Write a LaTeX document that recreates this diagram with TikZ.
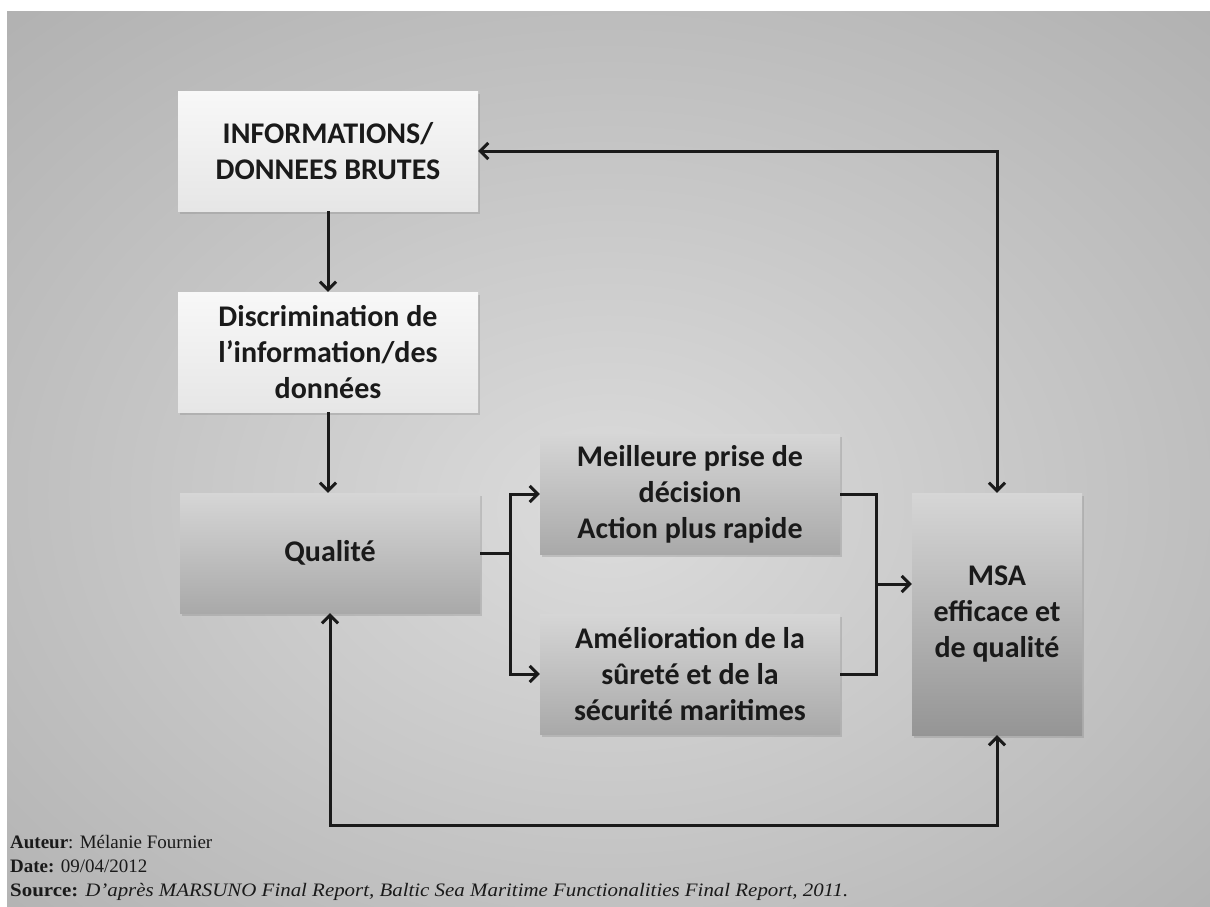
\documentclass[tikz,border=0pt]{standalone}
\usepackage{fontspec}
\setmainfont{Liberation Serif}
\newfontfamily\boxfont{Carlito}
\usepackage{tikz}
\usetikzlibrary{positioning,arrows.meta,shadows}
\usepackage{xcolor}
\definecolor{ink}{HTML}{1A1A1A}
\definecolor{bgcentre}{HTML}{DCDCDC}
\definecolor{bgmid}{HTML}{C2C2C2}
\definecolor{bgrim}{HTML}{A4A4A4}
\definecolor{bgedge}{HTML}{8A8A8A}
\definecolor{paletop}{HTML}{F8F8F8}
\definecolor{palebottom}{HTML}{E6E6E6}
\definecolor{greytop}{HTML}{D6D6D6}
\definecolor{greybottom}{HTML}{A9A9A9}
\definecolor{darkbottom}{HTML}{959595}
\pgfdeclareradialshading{bgglow}{\pgfpoint{0bp}{-3bp}}{color(0bp)=(bgcentre); color(22bp)=(bgmid); color(48bp)=(bgrim); color(72bp)=(bgedge)}

\tikzset{
    rawbox/.style={rectangle, inner sep=0pt, align=center, text=ink,
        font=\boxfont\bfseries\fontsize{30}{36}\selectfont,
        drop shadow={shadow xshift=2pt, shadow yshift=-3pt, opacity=0.3}},
    palebox/.style={rawbox, minimum width=300pt, minimum height=120pt, top color=paletop, bottom color=palebottom},
    greybox/.style={rawbox, minimum width=300pt, minimum height=120pt, top color=greytop, bottom color=greybottom},
    flow/.style={line width=3pt, draw=ink},
    footnote/.style={anchor=base west, inner sep=0pt, text=ink, font=\fontsize{19}{22}\selectfont},
    >={Straight Barb[length=8pt,width=16pt]}
}

\begin{document}
\begin{tikzpicture}[x=1pt, y=-1pt]
    \useasboundingbox (0,0) rectangle (1210,906);
    \fill[white] (0,0) rectangle (1210,906);
    \shade[shading=bgglow] (7,11) rectangle (1210,906);

    % boxes
    \node[palebox] (rawdata) at (328,151) {INFORMATIONS/\\DONNEES BRUTES};
    \node[palebox] (sorting) at (328,352) {Discrimination de\\l’information/des\\données};
    \node[greybox] (quality) at (330,553) {Qualité};
    \node[greybox] (decision) at (690,494) {Meilleure prise de\\décision\\Action plus rapide};
    \node[greybox] (safety) at (690,674) {Amélioration de la\\sûreté et de la\\sécurité maritimes};
    \node[rawbox, minimum width=170pt, minimum height=242pt, top color=greytop, bottom color=darkbottom] (msa) at (997,614) {MSA\\efficace et\\de qualité};

    \coordinate (split) at (510,553);
    \coordinate (merge) at (876,584);
    \coordinate (bottomrun) at (0,825);

    % connectors
    \draw[flow, ->] (rawdata.south) -- (sorting.north);
    \draw[flow, ->] (sorting.south) -- (sorting.south |- quality.north);
    \draw[flow] (quality.east) -- (split);
    \draw[flow, ->] (split) |- (decision.west);
    \draw[flow, ->] (split) |- (safety.west);
    \draw[flow] (decision.east) -| (merge |- safety.east) -- (safety.east);
    \draw[flow, ->] (merge) -- (merge -| msa.west);
    \draw[flow, <->] (rawdata.east) -| (msa.north);
    \draw[flow, <->] (quality.south) -- (quality.south |- bottomrun) -| (msa.south);

    % footer
    \node[footnote] (author) at (10,848) {\textbf{Auteur}: Mélanie Fournier};
    \node[footnote] (date) at (10,872) {\textbf{Date:} 09/04/2012};
    \node[footnote] (source) at (10,896) {\scalebox{1.1}[1]{\textbf{Source:} \textit{D’après MARSUNO Final Report, Baltic Sea Maritime Functionalities Final Report, 2011.}}};
\end{tikzpicture}
\end{document}
